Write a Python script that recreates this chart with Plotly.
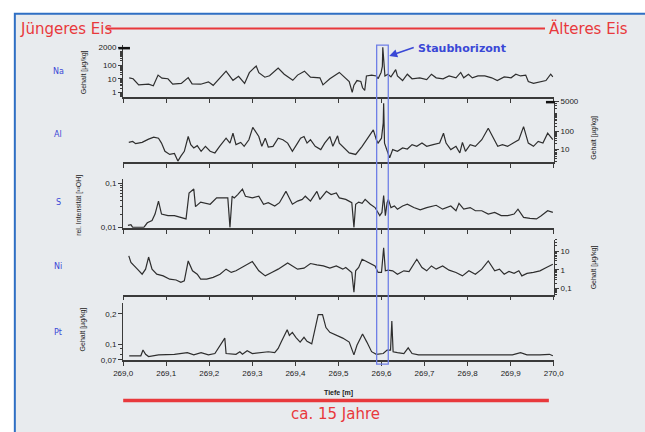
import math
import plotly.graph_objects as go

W, H = 645, 432

# ---------------- data ----------------
depth_ticks = [269.0, 269.1, 269.2, 269.3, 269.4, 269.5, 269.6, 269.7, 269.8, 269.9, 270.0]
depth_tick_labels = ["269,0", "269,1", "269,2", "269,3", "269,4", "269,5",
                     "269,6", "269,7", "269,8", "269,9", "270,0"]

element_names = ["Na", "Al", "S", "Ni", "Pt"]

na_depth = [269.014, 269.023, 269.036, 269.059, 269.070, 269.081, 269.090, 269.104, 269.115, 269.135,
            269.151, 269.160, 269.180, 269.198, 269.209, 269.239, 269.255, 269.268, 269.282, 269.293,
            269.300, 269.309, 269.315, 269.329, 269.340, 269.360, 269.374, 269.394, 269.405, 269.421,
            269.435, 269.457, 269.464, 269.480, 269.502, 269.525, 269.532, 269.536, 269.543, 269.552,
            269.556, 269.561, 269.565, 269.577, 269.588, 269.592, 269.599, 269.602, 269.603, 269.605,
            269.608, 269.615, 269.622, 269.633, 269.637, 269.649, 269.660, 269.671, 269.689, 269.705,
            269.716, 269.727, 269.743, 269.757, 269.773, 269.784, 269.791, 269.802, 269.811, 269.824,
            269.840, 269.856, 269.869, 269.885, 269.901, 269.912, 269.923, 269.935, 269.941, 269.953,
            269.968, 269.982, 269.993, 269.998]
na_val = [11.7, 10, 3.6, 4, 3.1, 18.5, 11.1, 10, 4, 4.6,
          12.2, 4.2, 4, 6, 3.3, 36, 7.7, 15, 4.6, 28,
          46, 86, 28, 13, 16.6, 60, 21.5, 7.7, 18.5, 36,
          13, 11.7, 3.6, 10, 29, 6.3, 1.0, 3.4, 7.4, 6.3,
          2.2, 1.4, 16, 18.5, 16, 10, 29, 80, 2000, 250,
          16, 21.5, 13.6, 46, 16, 7.4, 21.5, 10, 11.7, 8.6,
          21.5, 11.7, 10, 16, 11.7, 29, 11.7, 21.5, 11.7, 16,
          16, 11.7, 7.4, 13.6, 11.7, 21.5, 16, 18.5, 6.3, 4.6,
          6.3, 7.4, 21.5, 13.6]

al_depth = [269.013, 269.022, 269.029, 269.044, 269.059, 269.071, 269.082, 269.089, 269.097, 269.108,
            269.119, 269.127, 269.134, 269.142, 269.151, 269.157, 269.164, 269.172, 269.181, 269.191,
            269.202, 269.213, 269.224, 269.239, 269.248, 269.255, 269.262, 269.273, 269.281, 269.292,
            269.301, 269.309, 269.315, 269.322, 269.330, 269.337, 269.348, 269.360, 269.371, 269.382,
            269.393, 269.405, 269.412, 269.420, 269.427, 269.435, 269.446, 269.459, 269.468, 269.480,
            269.487, 269.498, 269.502, 269.525, 269.540, 269.555, 269.570, 269.581, 269.588, 269.592,
            269.600, 269.604, 269.605, 269.607, 269.615, 269.619, 269.626, 269.637, 269.649, 269.660,
            269.671, 269.682, 269.694, 269.705, 269.720, 269.735, 269.744, 269.750, 269.761, 269.773,
            269.782, 269.788, 269.795, 269.806, 269.818, 269.833, 269.848, 269.859, 269.870, 269.881,
            269.893, 269.908, 269.919, 269.930, 269.941, 269.953, 269.964, 269.975, 269.986, 269.998]
al_val = [24.5, 27.8, 20.7, 24.5, 37.3, 48.2, 42.5, 22.4, 7.7, 5.1,
          5.8, 2.15, 4.1, 7.7, 52.7, 18.3, 11.8, 16.0, 7.7, 14.7,
          7.7, 6.2, 14.7, 42.5, 22.4, 80.6, 18.3, 24.5, 14.7, 34.6,
          174, 80.6, 52.7, 14.7, 42.5, 13.4, 14.7, 42.5, 34.6, 22.4,
          7.7, 22.4, 42.5, 52.7, 22.4, 34.6, 14.7, 9.6, 22.4, 52.7,
          14.7, 57.5, 22.4, 6.2, 5.1, 14.7, 52.7, 124, 34.6, 22.4,
          42.5, 300, 4000, 22.4, 6.2, 3.3, 9.6, 7.7, 11.8, 10.4,
          18.3, 14.7, 22.4, 14.7, 18.3, 22.4, 80.6, 22.4, 9.6, 14.7,
          6.2, 24.5, 7.7, 18.3, 14.7, 34.6, 153, 42.5, 14.7, 18.3,
          14.7, 24.5, 34.6, 190, 22.4, 14.7, 27.8, 22.4, 80.6, 34.6]

s_depth = [269.011, 269.018, 269.022, 269.048, 269.056, 269.067, 269.074, 269.082, 269.089, 269.104,
           269.119, 269.134, 269.146, 269.153, 269.161, 269.164, 269.168, 269.180, 269.202, 269.217,
           269.243, 269.248, 269.253, 269.258, 269.266, 269.277, 269.284, 269.300, 269.315, 269.326,
           269.337, 269.352, 269.363, 269.378, 269.393, 269.405, 269.416, 269.423, 269.435, 269.450,
           269.457, 269.472, 269.483, 269.495, 269.502, 269.517, 269.531, 269.536, 269.540, 269.547,
           269.555, 269.562, 269.574, 269.585, 269.596, 269.601, 269.605, 269.609, 269.613, 269.616,
           269.622, 269.630, 269.637, 269.649, 269.660, 269.675, 269.690, 269.705, 269.727, 269.742,
           269.761, 269.773, 269.780, 269.791, 269.806, 269.818, 269.833, 269.848, 269.863, 269.878,
           269.893, 269.908, 269.917, 269.930, 269.945, 269.960, 269.971, 269.986, 269.998]
s_val = [0.0111, 0.0115, 0.0100, 0.0100, 0.0127, 0.0143, 0.0201, 0.0398, 0.0201, 0.0185,
         0.0185, 0.0169, 0.0156, 0.0610, 0.0725, 0.0748, 0.0297, 0.0378, 0.0337, 0.0471,
         0.0471, 0.0100, 0.0514, 0.0471, 0.0560, 0.0748, 0.0514, 0.0471, 0.0514, 0.0337,
         0.0366, 0.0308, 0.0366, 0.0664, 0.0337, 0.0398, 0.0434, 0.0514, 0.0398, 0.0664,
         0.0434, 0.0664, 0.0560, 0.0610, 0.0471, 0.0434, 0.0366, 0.0100, 0.0337, 0.0378,
         0.0354, 0.0434, 0.0337, 0.0283, 0.0185, 0.0219, 0.0533, 0.0185, 0.0366, 0.0434,
         0.0283, 0.0308, 0.0260, 0.0308, 0.0337, 0.0283, 0.0251, 0.0283, 0.0319, 0.0260,
         0.0308, 0.0239, 0.0354, 0.0260, 0.0283, 0.0239, 0.0239, 0.0201, 0.0219, 0.0185,
         0.0185, 0.0201, 0.0260, 0.0169, 0.0161, 0.0156, 0.0185, 0.0239, 0.0219]

ni_depth = [269.013, 269.018, 269.033, 269.044, 269.052, 269.059, 269.067, 269.078, 269.093, 269.108,
            269.123, 269.134, 269.142, 269.151, 269.161, 269.172, 269.180, 269.194, 269.209, 269.225,
            269.239, 269.251, 269.262, 269.277, 269.300, 269.315, 269.330, 269.345, 269.360, 269.382,
            269.405, 269.420, 269.435, 269.450, 269.465, 269.480, 269.495, 269.510, 269.517, 269.531,
            269.536, 269.540, 269.547, 269.555, 269.570, 269.585, 269.592, 269.600, 269.605, 269.609,
            269.615, 269.626, 269.637, 269.652, 269.664, 269.682, 269.694, 269.705, 269.716, 269.727,
            269.742, 269.757, 269.773, 269.788, 269.803, 269.818, 269.833, 269.848, 269.863, 269.874,
            269.885, 269.896, 269.908, 269.919, 269.926, 269.938, 269.953, 269.968, 269.983, 269.998]
ni_val = [5.5, 2.45, 1.09, 0.59, 1.09, 4.8, 1.09, 0.59, 0.48, 0.32,
          0.29, 0.22, 0.26, 2.97, 0.89, 0.59, 0.32, 0.32, 0.40, 0.59,
          1.09, 0.73, 0.89, 1.34, 2.77, 0.89, 0.48, 0.73, 1.09, 2.34,
          1.09, 1.23, 2.17, 1.83, 1.62, 1.23, 1.62, 1.09, 1.34, 0.73,
          0.065, 0.89, 1.34, 3.65, 2.45, 1.62, 0.73, 0.73, 15, 0.89,
          0.96, 0.89, 0.59, 0.89, 0.82, 3.65, 1.34, 0.89, 1.62, 1.09,
          1.62, 0.96, 0.73, 0.48, 0.89, 0.59, 1.09, 2.97, 0.89, 1.09,
          0.59, 0.82, 0.65, 0.89, 0.48, 0.65, 0.73, 0.89, 1.34, 2.0]

pt_depth = [269.014, 269.041, 269.046, 269.052, 269.059, 269.082, 269.119, 269.149, 269.164, 269.181,
            269.198, 269.213, 269.236, 269.239, 269.262, 269.271, 269.277, 269.288, 269.300, 269.315,
            269.337, 269.352, 269.360, 269.367, 269.381, 269.386, 269.393, 269.401, 269.411, 269.420,
            269.427, 269.438, 269.453, 269.463, 269.471, 269.480, 269.495, 269.510, 269.525, 269.536,
            269.543, 269.556, 269.566, 269.577, 269.588, 269.604, 269.613, 269.621, 269.624, 269.627,
            269.637, 269.652, 269.662, 269.671, 269.686, 269.735, 269.780, 269.825, 269.870, 269.904,
            269.923, 269.938, 269.968, 269.990, 269.998]
pt_val = [0.0769, 0.0769, 0.0877, 0.0796, 0.0757, 0.0786, 0.0796, 0.0826, 0.0786, 0.0826,
          0.0786, 0.0810, 0.115, 0.0810, 0.0796, 0.0843, 0.0796, 0.0864, 0.0810, 0.0826,
          0.0843, 0.0826, 0.0908, 0.105, 0.139, 0.122, 0.131, 0.117, 0.105, 0.117,
          0.107, 0.101, 0.196, 0.196, 0.146, 0.131, 0.123, 0.115, 0.105, 0.0786,
          0.0978, 0.126, 0.105, 0.0845, 0.0796, 0.0810, 0.0877, 0.0877, 0.169, 0.0843,
          0.0826, 0.0810, 0.0922, 0.0810, 0.0786, 0.0786, 0.0796, 0.0786, 0.0786, 0.0786,
          0.0826, 0.0786, 0.0786, 0.0796, 0.0769]

# ---------------- layout helpers ----------------
def fx(px):
    return px / W

def fy(py):
    return 1 - py / H

X0, X1 = 117, 562
LINE_C = "#2e2e2e"
AX_C = "#3a3a3a"
TICK_FONT = dict(family="Liberation Sans, Arial, sans-serif", size=8, color="#222222")
RED = "#e8393c"
BLUE_TXT = "#3a48d6"

panels = [
    # depth, values, (top px, bottom px), side, log range, tickvals, ticktext
    (na_depth, na_val, (42, 95), "left", [-0.35, 3.45], [1, 10, 100, 2000], ["1", "10", "100", "2000"]),
    (al_depth, al_val, (99, 161), "right", [0.28, 3.72], [10, 100, 5000], ["10", "100", "5000"]),
    (s_depth, s_val, (178, 228), "left", [-2.01, -0.889], [0.01, 0.1], ["0,01", "0,1"]),
    (ni_depth, ni_val, (240, 296), "right", [-1.31, 1.61], [0.1, 1, 10], ["0,1", "1", "10"]),
    (pt_depth, pt_val, (305, 363), "left", [math.log10(0.0695), -0.597], [0.07, 0.1, 0.2], ["0,07", "0,1", "0,2"]),
]

fig = go.Figure()
layout = {}
for i, (dep, val, (top, bot), side, rng, tv, tt) in enumerate(panels, start=1):
    assert len(dep) == len(val), (i, len(dep), len(val))
    sfx = "" if i == 1 else str(i)
    fig.add_trace(go.Scatter(
        x=dep, y=val, mode="lines", xaxis="x" + sfx, yaxis="y" + sfx,
        line=dict(color=LINE_C, width=1.2), showlegend=False, hoverinfo="skip"))
    layout["xaxis" + sfx] = dict(
        domain=[fx(X0), fx(X1)], anchor="y" + sfx, range=[269.0, 270.0],
        showline=True, linecolor=AX_C, linewidth=1.6, ticks="outside", ticklen=4,
        tickcolor=AX_C, tickwidth=1.2, tickmode="array", tickvals=depth_ticks,
        ticktext=depth_tick_labels, showticklabels=(i == 5), tickfont=TICK_FONT,
        showgrid=False, zeroline=False, fixedrange=True)
    layout["yaxis" + sfx] = dict(
        domain=[fy(bot), fy(top)], anchor="x" + sfx, type="log", range=rng, side=side,
        showline=True, linecolor=AX_C, linewidth=1.4, ticks="outside", ticklen=4,
        tickcolor=AX_C, tickwidth=1.2, tickmode="array", tickvals=tv, ticktext=tt,
        tickfont=TICK_FONT, showgrid=False, zeroline=False, fixedrange=True,
        minor=dict(ticks="outside", ticklen=2, tickcolor=AX_C, dtick="D1", showgrid=False))

fig.update_layout(**layout)

shapes = [
    # background frame
    dict(type="rect", xref="paper", yref="paper", x0=fx(5), x1=fx(660), y0=fy(445), y1=fy(10),
         fillcolor="#e8ebee", line=dict(color="#2f6fc4", width=2), layer="below"),
    # top red line
    dict(type="line", xref="paper", yref="paper", x0=fx(100), x1=fx(553), y0=fy(25), y1=fy(25),
         line=dict(color=RED, width=2)),
    # bottom red line
    dict(type="line", xref="paper", yref="paper", x0=fx(117), x1=fx(557), y0=fy(404), y1=fy(404),
         line=dict(color=RED, width=3.5)),
    # Staubhorizont box
    dict(type="rect", xref="paper", yref="paper", x0=fx(379), x1=fx(391), y0=fy(367), y1=fy(42),
         line=dict(color="#6f7fe6", width=1.3), fillcolor="rgba(0,0,0,0)"),
    # axis break marks
    dict(type="line", xref="paper", yref="paper", x0=fx(112), x1=fx(124), y0=fy(45), y1=fy(45),
         line=dict(color="#111111", width=2.5)),
    dict(type="line", xref="paper", yref="paper", x0=fx(554), x1=fx(563), y0=fy(100), y1=fy(100),
         line=dict(color="#111111", width=2.5)),
]

ann = []
def txt(x, y, s, size, color, xanchor="center", angle=0, bold=False, family="DejaVu Sans, sans-serif"):
    ann.append(dict(x=fx(x), y=fy(y), xref="paper", yref="paper", text=("<b>%s</b>" % s) if bold else s,
                    showarrow=False, xanchor=xanchor, yanchor="middle", textangle=angle,
                    font=dict(size=size, color=color, family=family)))

txt(8, 25, "Jüngeres Eis", 15, RED, xanchor="left")
txt(641, 25, "Älteres Eis", 15, RED, xanchor="right")
txt(336, 418, "ca. 15 Jahre", 15, RED)
txt(420, 45, "Staubhorizont", 11, BLUE_TXT, xanchor="left", bold=True)
ann.append(dict(x=fx(392), y=fy(53), xref="paper", yref="paper", text="", showarrow=True,
                ax=26, ay=-9, arrowhead=2, arrowsize=1, arrowwidth=1.6, arrowcolor=BLUE_TXT))

for name, ypos in zip(element_names, [69, 133, 202, 267, 335]):
    txt(50, ypos, name, 8, BLUE_TXT)

lab_font = "Liberation Sans, Arial, sans-serif"
txt(76, 70, "Gehalt [µg/kg]", 7, "#222222", angle=-90, family=lab_font)
txt(604, 136, "Gehalt [µg/kg]", 7, "#222222", angle=-90, family=lab_font)
txt(72, 205, "rel. Intensität [³²OH]", 7, "#222222", angle=-90, family=lab_font)
txt(604, 268, "Gehalt [µg/kg]", 7, "#222222", angle=-90, family=lab_font)
txt(75, 332, "Gehalt [µg/kg]", 7, "#222222", angle=-90, family=lab_font)
txt(340, 396, "Tiefe [m]", 7, "#222222", bold=True, family=lab_font)

fig.update_layout(
    width=W, height=H, margin=dict(l=0, r=0, t=0, b=0),
    paper_bgcolor="white", plot_bgcolor="rgba(0,0,0,0)",
    shapes=shapes, annotations=ann, showlegend=False)

post = ("document.body.style.margin='0';"
        "document.documentElement.style.overflow='hidden';"
        "document.body.style.overflow='hidden';")
fig.write_html("out.html", config={"displayModeBar": False}, post_script=post)
